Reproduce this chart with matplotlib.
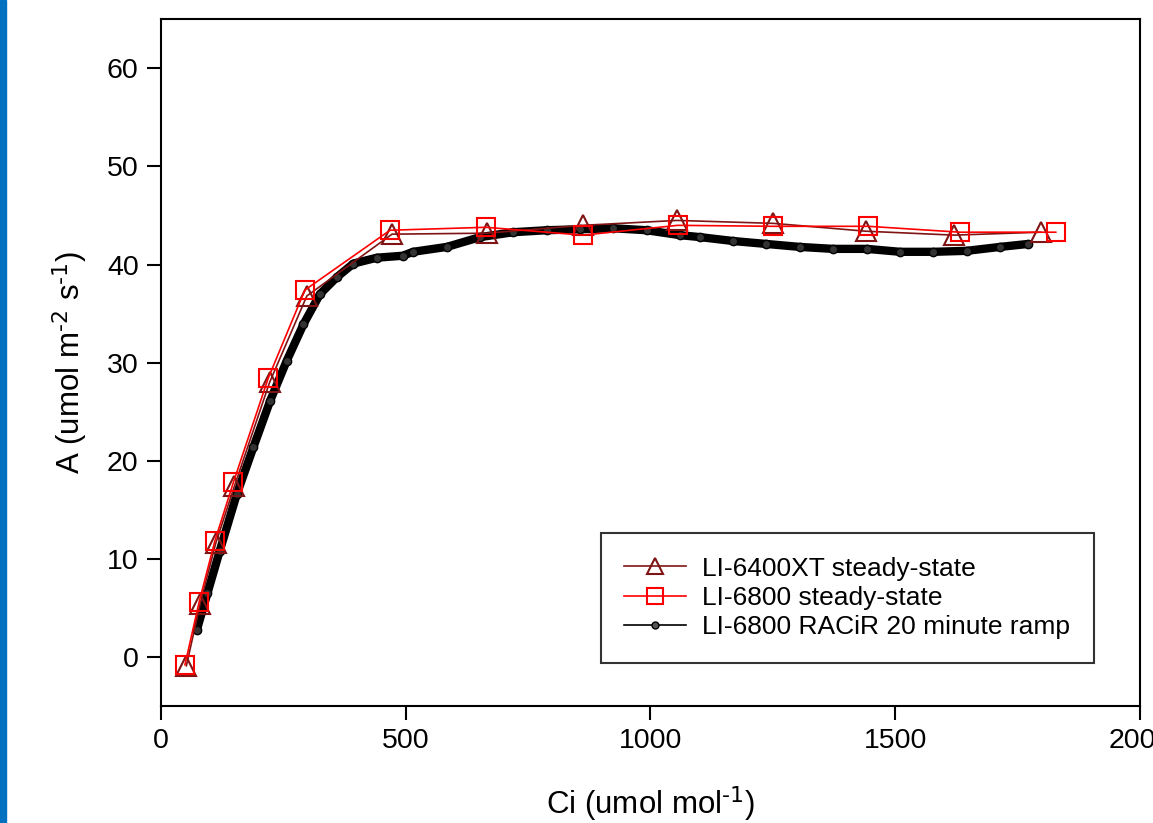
import numpy as np
import matplotlib
matplotlib.use('Agg')
import matplotlib.pyplot as plt
from matplotlib.lines import Line2D
from matplotlib.patches import Rectangle

plt.rcParams['font.family'] = ['Liberation Sans', 'DejaVu Sans']
plt.rcParams['mathtext.default'] = 'regular'

# LI-6400XT steady-state (triangles)
ci_6400 = [52, 80, 112, 150, 222, 298, 472, 666, 862, 1054, 1251, 1440, 1620, 1797]
a_6400 = [-0.9, 5.4, 11.6, 17.4, 28.0, 36.8, 43.1, 43.2, 44.0, 44.5, 44.2, 43.4, 43.0, 43.3]

# LI-6800 steady-state (squares)
ci_6800 = [49, 78, 110, 148, 219, 294, 468, 664, 862, 1056, 1251, 1445, 1632, 1828]
a_6800 = [-0.8, 5.6, 11.8, 17.8, 28.4, 37.4, 43.5, 43.8, 43.0, 44.0, 43.9, 43.9, 43.3, 43.3]

# LI-6800 RACiR 20 minute ramp (read along the band)
ci_ramp = [73, 95, 120, 155, 189, 223, 257, 291, 325, 359, 393, 441, 494, 515, 584,
           652, 720, 788, 856, 924, 992, 1060, 1101, 1169, 1237, 1305, 1373, 1442,
           1510, 1578, 1646, 1714, 1771]
a_ramp = [2.7, 6.5, 10.8, 16.6, 21.4, 26.1, 30.2, 33.9, 37.0, 38.7, 40.1, 40.7, 40.9,
          41.3, 41.8, 42.8, 43.3, 43.5, 43.6, 43.7, 43.5, 43.0, 42.8, 42.4, 42.1, 41.8,
          41.6, 41.6, 41.3, 41.3, 41.4, 41.8, 42.1]

labels = ['LI-6400XT steady-state', 'LI-6800 steady-state', 'LI-6800 RACiR 20 minute ramp']
dark_red = '#7f1414'
red = '#ff0000'

fig = plt.figure(figsize=(11.53, 8.23), dpi=100)
ax = fig.add_axes([0.1396, 0.1422, 0.8491, 0.8343])

# blue strip on the left edge
fig.patches.append(Rectangle((0, 0), 6 / 1153, 1, transform=fig.transFigure,
                             color='#0070c0', zorder=0))

ax.plot(ci_ramp, a_ramp, color='black', lw=6, solid_capstyle='round', zorder=2)
ax.plot(ci_ramp, a_ramp, 'o', color='black', mfc='#333333', ms=6, mew=1, zorder=2)
ax.plot(ci_6400, a_6400, '-^', color=dark_red, lw=1.2, ms=14, mfc='none', mew=1.5, zorder=3)
ax.plot(ci_6800, a_6800, '-s', color=red, lw=1.2, ms=13, mfc='none', mew=1.5, zorder=4)

ax.set_xlim(0, 2000)
ax.set_ylim(-5, 65)
ax.set_xticks([0, 500, 1000, 1500, 2000])
ax.set_yticks([0, 10, 20, 30, 40, 50, 60])
ax.tick_params(direction='out', length=10, width=1.5, labelsize=20.5, pad=6,
               top=False, right=False)
for s in ax.spines.values():
    s.set_linewidth(1.5)

ax.set_xlabel(r'Ci (umol mol$^{\text{-1}}$)', fontsize=22.5, labelpad=22)
ax.set_ylabel(r'A (umol m$^{\text{-2}}$ s$^{\text{-1}}$)', fontsize=22.5, labelpad=12)

handles = [
    Line2D([], [], color=dark_red, marker='^', ms=12, mfc='none', mew=1.5, lw=1.2),
    Line2D([], [], color=red, marker='s', ms=11, mfc='none', mew=1.5, lw=1.2),
    Line2D([], [], color='black', marker='o', ms=5, mfc='#555555', mew=1, lw=1.2),
]
leg = ax.legend(handles, labels, loc='lower left', bbox_to_anchor=(0.449, 0.0626),
                borderaxespad=0, fontsize=19, frameon=True, fancybox=False,
                edgecolor='black', handlelength=2.35, handletextpad=0.6,
                labelspacing=0.2, borderpad=0.9)
leg.get_frame().set_linewidth(1.5)

fig.savefig('out.png', dpi=100)
